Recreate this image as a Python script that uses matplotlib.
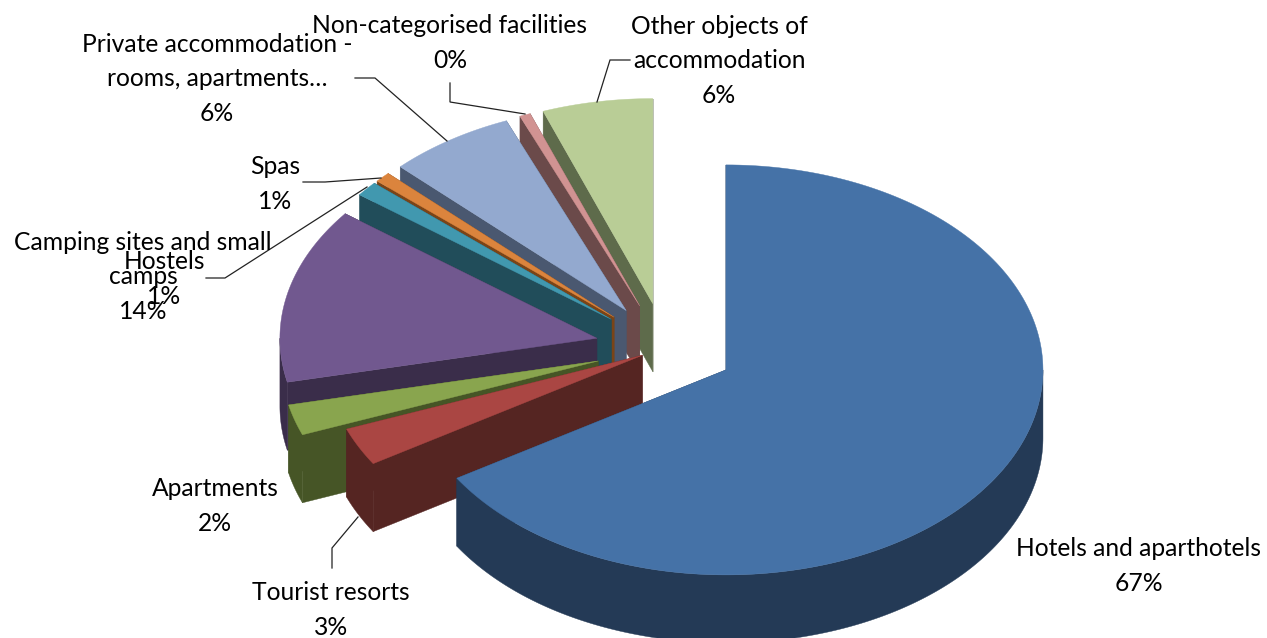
import numpy as np
import matplotlib
matplotlib.use('Agg')
import matplotlib.pyplot as plt
from matplotlib.patches import Polygon

plt.rcParams['font.family'] = ['Lato', 'DejaVu Sans']

categories = ['Hotels and aparthotels', 'Tourist resorts', 'Apartments',
              'Camping sites and small\ncamps', 'Hostels', 'Spas',
              'Private accommodation -\nrooms, apartments…',
              'Non-categorised facilities', 'Other objects of\naccommodation']
# slice sizes as drawn (the original's 3D projection squeezes them a bit)
shares = [66.14, 3.0, 2.42, 13.83, 1.17, 0.81, 6.46, 0.55, 5.62]
percent_labels = ['67%', '3%', '2%', '14%', '1%', '1%', '6%', '0%', '6%']
explode = [0.22, 0.08, 0.22, 0.22, 0.22, 0.22, 0.22, 0.22, 0.22]

top_colors = ['#4572A7', '#AA4643', '#89A54E', '#71588F', '#4198AF',
              '#DB843D', '#93A9CF', '#D19392', '#B9CD96']
dark_colors = ['#243A56', '#552522', '#465526', '#3A2D4A', '#214D5A',
               '#7A4417', '#4A5870', '#6B4A4A', '#5E6B4B']

label_pos = [(1139, 566), (331, 610), (215, 506), (143, 277), (164, 279),
             (275, 184), (217, 79), (450, 43), (719, 61)]

leaders = [
    [(332, 568), (332, 548), (358, 517)],
    [(206, 278), (225, 278), (367, 187)],
    [(303, 182), (325, 182), (381, 178)],
    [(355, 78), (375, 78), (447, 141)],
    [(450, 83), (450, 102), (525, 114)],
    [(630, 60), (610, 60), (597, 102)],
]

CX, CY = 665, 348
RX, RY = 317, 205
DEPTH = 68


def rim(apex, angles):
    rad = np.radians(angles)
    return np.column_stack([apex[0] + RX * np.sin(rad), apex[1] - RY * np.cos(rad)])


def draw_slice(ax, apex, a0, a1, top, dark):
    down = np.array([0, DEPTH])
    ap = np.array(apex)
    p0, p1 = rim(apex, [a0, a1])
    # cut faces, walls and lid, back to front
    for p in (p0, p1):
        ax.add_patch(Polygon([ap, p, p + down, ap + down], fc=dark, ec=dark, lw=0.3))
    lo, hi = max(a0, 90), min(a1, 270)
    if hi > lo:
        arc = rim(apex, np.linspace(lo, hi, 200))
        wall = np.vstack([arc, (arc + down)[::-1]])
        ax.add_patch(Polygon(wall, fc=dark, ec=dark, lw=0.3))
    arc = rim(apex, np.linspace(a0, a1, 200))
    ax.add_patch(Polygon(np.vstack([ap, arc]), fc=top, ec=top, lw=0.3))


def main():
    fig = plt.figure(figsize=(12.67, 6.38), dpi=100)
    ax = fig.add_axes([0, 0, 1, 1])
    ax.set_xlim(0, 1267)
    ax.set_ylim(638, 0)
    ax.axis('off')

    edges = np.concatenate([[0], np.cumsum(shares)]) / np.sum(shares) * 360
    order = [8, 7, 6, 5, 4, 3, 2, 1, 0]
    for i in order:
        mid = np.radians((edges[i] + edges[i + 1]) / 2)
        apex = (CX + explode[i] * RX * np.sin(mid), CY - explode[i] * RY * np.cos(mid))
        draw_slice(ax, apex, edges[i], edges[i + 1], top_colors[i], dark_colors[i])

    for pts in leaders:
        xs, ys = zip(*pts)
        ax.plot(xs, ys, color='#222222', lw=0.9, solid_joinstyle='miter')

    for name, pct, pos in zip(categories, percent_labels, label_pos):
        ax.text(pos[0], pos[1], f'{name}\n{pct}', ha='center', va='center',
                fontsize=17.7, linespacing=1.6, color='black')

    fig.savefig('out.png', dpi=100)


if __name__ == '__main__':
    main()
